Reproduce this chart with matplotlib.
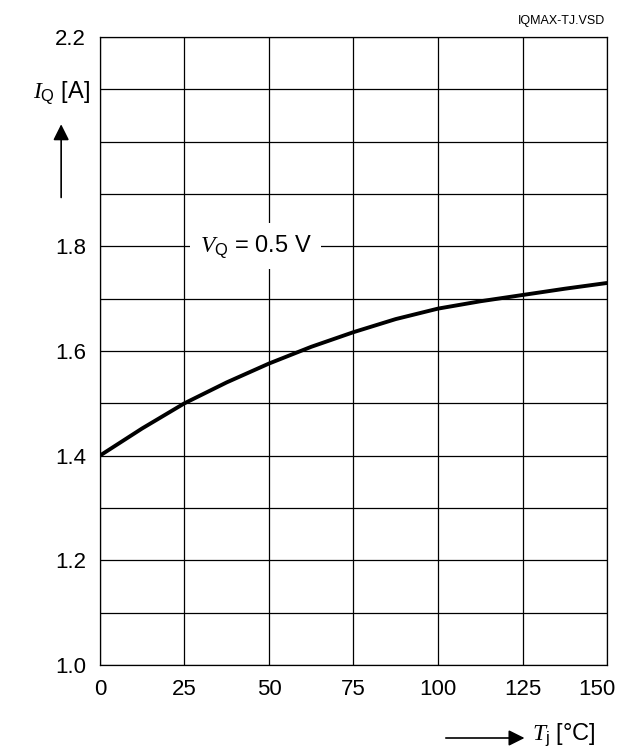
import matplotlib
matplotlib.use("Agg")
import matplotlib.pyplot as plt
import matplotlib.patches as mpatches
import matplotlib.transforms as mtransforms

plt.rcParams['font.family'] = ['Liberation Sans', 'DejaVu Sans']
plt.rcParams['mathtext.fontset'] = 'custom'
plt.rcParams['mathtext.rm'] = 'Liberation Sans'
plt.rcParams['mathtext.it'] = 'Liberation Serif:italic'

# Data
tj = [0, 12.5, 25, 37.5, 50, 62.5, 75, 87.5, 100, 112.5, 125, 137.5, 150]
iq = [1.400, 1.452, 1.500, 1.540, 1.576, 1.608, 1.636, 1.661, 1.681, 1.695, 1.707, 1.719, 1.730]
x_ticks = [0, 25, 50, 75, 100, 125, 150]
y_grid = [1.0, 1.1, 1.2, 1.3, 1.4, 1.5, 1.6, 1.7, 1.8, 1.9, 2.0, 2.1, 2.2]
y_labels = {1.0: "1.0", 1.2: "1.2", 1.4: "1.4", 1.6: "1.6", 1.8: "1.8", 2.2: "2.2"}

fig = plt.figure(figsize=(6.24, 7.5), dpi=100)
ax = fig.add_axes([0.160, 0.1133, 0.813, 0.8374])
ax.set_xlim(0, 150)
ax.set_ylim(1.0, 2.2)

for x in x_ticks:
    ax.axvline(x, color='black', lw=0.9, zorder=1)
for y in y_grid:
    ax.axhline(y, color='black', lw=0.9, zorder=1)

ax.plot(tj, iq, color='black', lw=2.8, solid_capstyle='butt', zorder=3)

ax.set_xticks(x_ticks)
ax.set_xticklabels([str(v) for v in x_ticks])
ax.set_yticks(list(y_labels.keys()))
ax.set_yticklabels(list(y_labels.values()))
ax.tick_params(length=0, labelsize=16)
ax.tick_params(axis='y', pad=10)
ax.tick_params(axis='x', pad=10)
for s in ax.spines.values():
    s.set_linewidth(0.9)

# shift the last x tick label left so it stays inside the figure
last = ax.get_xticklabels()[-1]
last.set_transform(last.get_transform() + mtransforms.ScaledTranslation(-0.10, 0, fig.dpi_scale_trans))

# Curve label with white background
ax.text(46, 1.8, r"$V_{\mathrm{Q}}$ = 0.5 V", fontsize=17, ha='center', va='center',
        bbox=dict(facecolor='white', edgecolor='none', pad=7), zorder=4)

# Y axis label and arrow
fig.text(0.053, 0.876, r"$I_{\mathrm{Q}}$ [A]", fontsize=17, ha='left', va='center')
fig.add_artist(mpatches.FancyArrowPatch((0.098, 0.733), (0.098, 0.838),
               transform=fig.transFigure, arrowstyle='-|>', mutation_scale=24,
               color='black', lw=1.2))

# X axis label and arrow
fig.add_artist(mpatches.FancyArrowPatch((0.71, 0.016), (0.845, 0.016),
               transform=fig.transFigure, arrowstyle='-|>', mutation_scale=24,
               color='black', lw=1.2))
fig.text(0.852, 0.021, r"$T_{\mathrm{j}}$ [°C]", fontsize=17, ha='left', va='center')

# file tag
fig.text(0.97, 0.972, "IQMAX-TJ.VSD", fontsize=9, ha='right', va='center')

# cut-off title remnant (only the descender is visible)
fig.text(0.643, 1.0075, "y", fontsize=20, ha='center', va='baseline', weight='bold')

fig.savefig("out.png", dpi=100)
